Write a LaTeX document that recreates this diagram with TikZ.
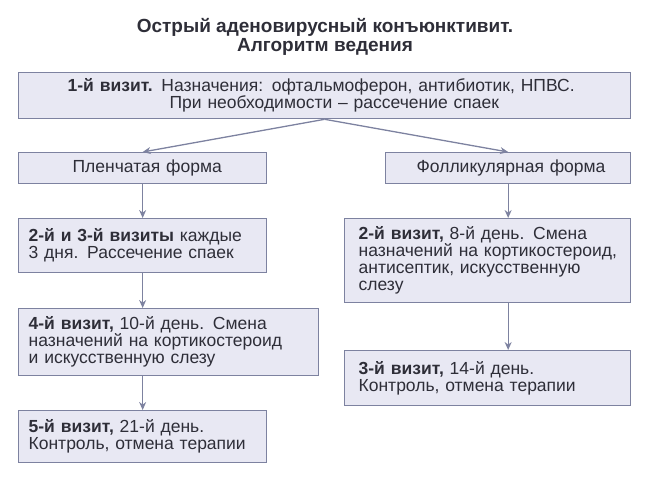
\documentclass[tikz,border=0pt]{standalone}
\usepackage{fontspec}
\setmainfont{Liberation Sans}
\usetikzlibrary{arrows.meta}
\definecolor{bx}{HTML}{E8E8F3}
\definecolor{bd}{HTML}{7D82A0}
\definecolor{tx}{HTML}{2E2E38}
\begin{document}
\begin{tikzpicture}[x=1pt,y=-1pt,
 box/.style={draw=bd,fill=bx,line width=1.3pt,anchor=north west,align=left,inner sep=0pt,text=tx,font=\fontsize{17.5}{17}\selectfont},
 arr/.style={draw=bd,line width=1.3pt,-{Stealth[length=8pt,width=7pt]}}]
\useasboundingbox (0,0) rectangle (650,486);
\node[text=tx,font=\bfseries\fontsize{19}{19}\selectfont,align=center] (t) at (325,37) {Острый аденовирусный конъюнктивит.\\Алгоритм ведения};
\node[box,minimum width=612pt,minimum height=46pt,text width=604pt] (b1) at (18,72) {\hspace*{45pt}\textbf{1-й визит.} Назначения: офтальмоферон, антибиотик, НПВС.\\\hspace*{147pt}При необходимости -- рассечение спаек};
\node[box,minimum width=248pt,minimum height=31pt,text width=240pt] (p) at (18,152) {\hspace*{50pt}Пленчатая форма};
\node[box,minimum width=245pt,minimum height=31pt,text width=237pt] (f) at (385,152) {\hspace*{27pt}Фолликулярная форма};
\node[box,minimum width=248pt,minimum height=54pt,text width=244pt] (p2) at (18,218) {\hspace*{8pt}\textbf{2-й и 3-й визиты} каждые\\\hspace*{8pt}3 дня. Рассечение спаек};
\node[box,minimum width=300pt,minimum height=67pt,text width=296pt] (p4) at (18,308) {\hspace*{8pt}\textbf{4-й визит,} 10-й день. Смена\\\hspace*{8pt}назначений на кортикостероид\\\hspace*{8pt}и искусственную слезу};
\node[box,minimum width=248pt,minimum height=52pt,text width=244pt] (p5) at (18,410) {\hspace*{8pt}\textbf{5-й визит,} 21-й день.\\\hspace*{8pt}Контроль, отмена терапии};
\node[box,minimum width=286pt,minimum height=84pt,text width=282pt] (f2) at (344,218) {\hspace*{12pt}\textbf{2-й визит,} 8-й день. Смена\\\hspace*{12pt}назначений на кортикостероид,\\\hspace*{12pt}антисептик, искусственную\\\hspace*{12pt}слезу};
\node[box,minimum width=286pt,minimum height=55pt,text width=282pt] (f3) at (344,350) {\hspace*{12pt}\textbf{3-й визит,} 14-й день.\\\hspace*{12pt}Контроль, отмена терапии};
\draw[arr] (b1.south) -- (p.north);
\draw[arr] (b1.south) -- (f.north);
\draw[arr] (p.south) -- (p.south|-p2.north);
\draw[arr] (p2.south) -- (p2.south|-p4.north);
\draw[arr] (p2.south|-p4.south) -- (p5.north);
\draw[arr] (f.south) -- (f.south|-f2.north);
\draw[arr] (f.south|-f2.south) -- (f.south|-f3.north);
\end{tikzpicture}
\end{document}
